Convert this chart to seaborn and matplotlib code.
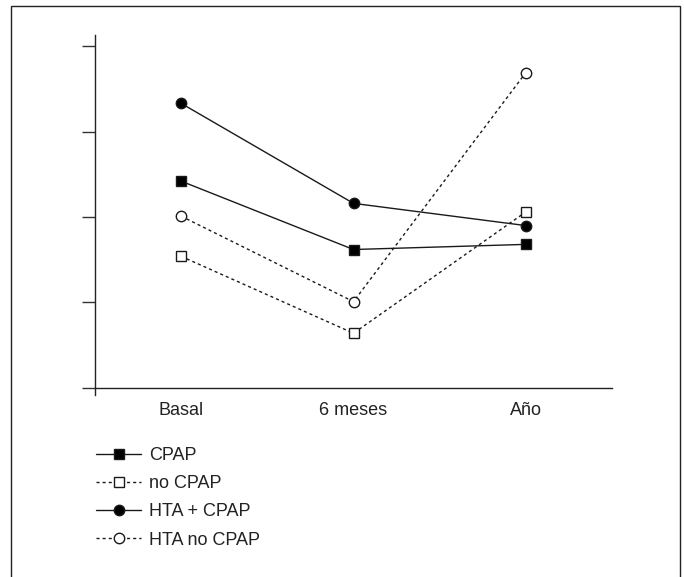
import matplotlib
matplotlib.use("Agg")
import matplotlib.pyplot as plt
import matplotlib.patches as mpatches
import seaborn as sns

# data (y axis has no labels, ticks 0..4)
tiempos = ["Basal", "6 meses", "Año"]
cpap = [2.42, 1.62, 1.68]
no_cpap = [1.54, 0.64, 2.06]
hta_cpap = [3.33, 2.16, 1.90]
hta_no_cpap = [2.01, 1.01, 3.69]
y_ticks = [0, 1, 2, 3, 4]

series = [
    ("CPAP", cpap, "s", "k", "-"),
    ("no CPAP", no_cpap, "s", "white", (0, (2.2, 2.2))),
    ("HTA + CPAP", hta_cpap, "o", "k", "-"),
    ("HTA no CPAP", hta_no_cpap, "o", "white", (0, (2.2, 2.2))),
]

sns.set_style("white")
plt.rcParams["font.family"] = ["Liberation Sans", "DejaVu Sans"]

fig = plt.figure(figsize=(6.84, 5.77), dpi=100)
ax = fig.add_axes([95 / 684, 1 - 394.8 / 577, (612 - 95) / 684, (394.8 - 35) / 577])

for name, vals, mk, fc, ls in series:
    sns.lineplot(x=tiempos, y=vals, ax=ax, color="#1a1a1a", linewidth=1.0,
                 linestyle=ls, marker=mk, markersize=7.5, markerfacecolor=fc,
                 markeredgecolor="#1a1a1a", markeredgewidth=1.0, label=name,
                 sort=False)

ax.set_xlim(-0.5, 2.5)
ax.set_ylim(-0.08, 4.13)
ax.set_yticks(y_ticks)
ax.set_yticklabels([])
ax.set_xticks(range(len(tiempos)))
ax.set_xticklabels(tiempos)
ax.set_xticks([-0.5, 0.5, 1.5, 2.5], minor=True)
ax.tick_params(axis="x", which="major", length=0, pad=10, labelsize=13, labelcolor="#222222")
ax.tick_params(axis="x", which="minor", length=4.5, width=1.0, color="#333333", direction="out")
ax.tick_params(axis="y", length=9.5, width=1.0, color="#333333", direction="out", left=True)
ax.set_xlabel("")
ax.set_ylabel("")

for s in ["top", "right"]:
    ax.spines[s].set_visible(False)
ax.spines["bottom"].set_position(("data", 0))
for s in ["left", "bottom"]:
    ax.spines[s].set_color("#222222")
    ax.spines[s].set_linewidth(1.0)

handles, labels = ax.get_legend_handles_labels()
ax.get_legend().remove()
fig.legend(handles, labels, loc="upper left", bbox_to_anchor=(96 / 684, 1 - 447 / 577),
           frameon=False, fontsize=13, handlelength=2.5, handletextpad=0.45,
           labelspacing=0.62, borderpad=0, borderaxespad=0, labelcolor="#222222")

# frame around the whole figure
fig.patches.append(mpatches.Rectangle((11 / 684, -0.02), (680 - 11) / 684, 1 - 6 / 577 + 0.02,
                                      transform=fig.transFigure, fill=False,
                                      edgecolor="#222222", linewidth=1.0))

fig.savefig("out.png", dpi=100)
